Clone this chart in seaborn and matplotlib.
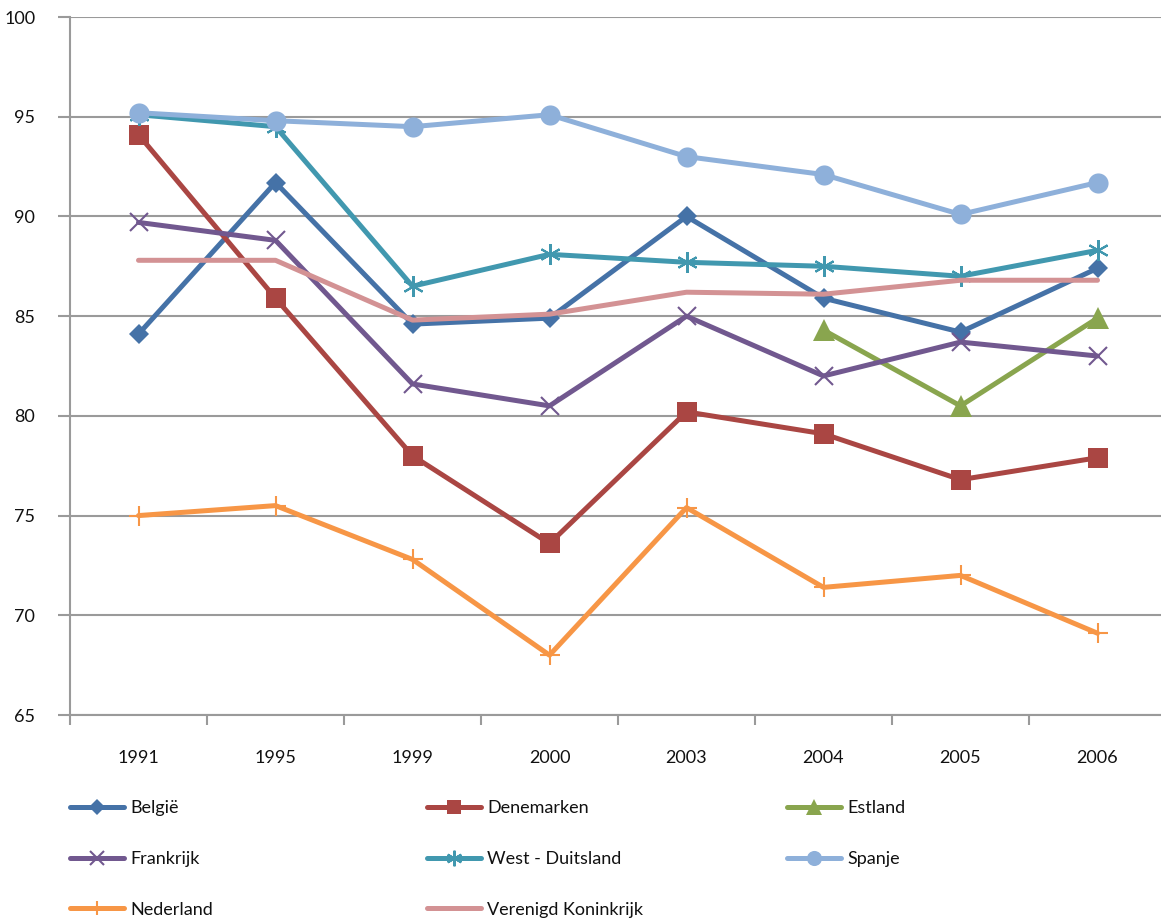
import numpy as np
import pandas as pd
import matplotlib
matplotlib.use("Agg")
import matplotlib.pyplot as plt
from matplotlib.lines import Line2D
import seaborn as sns

years = ["1991", "1995", "1999", "2000", "2003", "2004", "2005", "2006"]

belgie = [84.1, 91.7, 84.6, 84.9, 90.0, 85.9, 84.2, 87.4]
denemarken = [94.1, 85.9, 78.0, 73.6, 80.2, 79.1, 76.8, 77.9]
estland = [np.nan, np.nan, np.nan, np.nan, np.nan, 84.3, 80.5, 84.9]
frankrijk = [89.7, 88.8, 81.6, 80.5, 85.0, 82.0, 83.7, 83.0]
west_duitsland = [95.1, 94.5, 86.5, 88.1, 87.7, 87.5, 87.0, 88.3]
spanje = [95.2, 94.8, 94.5, 95.1, 93.0, 92.1, 90.1, 91.7]
nederland = [75.0, 75.5, 72.8, 68.0, 75.4, 71.4, 72.0, 69.1]
verenigd_koninkrijk = [87.8, 87.8, 84.8, 85.1, 86.2, 86.1, 86.8, 86.8]

series_names = ["België", "Denemarken", "Estland", "Frankrijk", "West - Duitsland",
                "Spanje", "Nederland", "Verenigd Koninkrijk"]
series_values = [belgie, denemarken, estland, frankrijk, west_duitsland,
                 spanje, nederland, verenigd_koninkrijk]

colors = ["#4572A7", "#AA4643", "#89A54E", "#71588F", "#4198AF",
          "#8EB0DA", "#F79646", "#D39294"]
styles = [
    dict(marker="D", markersize=10.5, markeredgewidth=0),
    dict(marker="s", markersize=14, markeredgewidth=0),
    dict(marker="^", markersize=16, markeredgewidth=0),
    dict(marker="x", markersize=13, markeredgewidth=1.5),
    dict(marker=(6, 2, 0), markersize=15, markeredgewidth=1.5),
    dict(marker="o", markersize=14.5, markeredgewidth=0),
    dict(marker="+", markersize=14, markeredgewidth=1.5),
    dict(marker="None"),
]

sns.set_theme(style="white")
plt.rcParams["font.family"] = ["Lato", "DejaVu Sans"]

W, H = 1161, 924
fig = plt.figure(figsize=(W / 100, H / 100), dpi=100)
ax = fig.add_axes([70 / W, 1 - 715 / H, 1096 / W, 698 / H])

x = np.arange(len(years))
lines = []
for name, vals, col, st in zip(series_names, series_values, colors, styles):
    df = pd.DataFrame({"x": x, "y": vals}).dropna()
    sns.lineplot(data=df, x="x", y="y", ax=ax, color=col, linewidth=3.6,
                 markeredgecolor=col, errorbar=None, legend=False, **st)
    lines.append(ax.get_lines()[-1])

grid_col = "#9a9a9a"
ax.set_xlim(-0.5, len(years) - 0.5)
ax.set_ylim(65, 100)
ax.set_yticks(np.arange(65, 101, 5))
ax.yaxis.grid(True, color=grid_col, linewidth=1.5)
ax.xaxis.grid(False)
ax.set_axisbelow(True)
for s in ["top", "right"]:
    ax.spines[s].set_visible(False)
for s in ["left", "bottom"]:
    ax.spines[s].set_color(grid_col)
    ax.spines[s].set_linewidth(1.5)

ax.set_xticks(np.arange(-0.5, len(years) - 0.4, 1.0))
ax.set_xticklabels([])
ax.set_xticks(x, minor=True)
ax.set_xticklabels(years, minor=True)
ax.tick_params(axis="x", which="major", direction="out", length=7, width=1.5,
               color=grid_col, bottom=True)
ax.tick_params(axis="x", which="minor", length=0, pad=25, labelsize=13,
               labelcolor="#111111", bottom=True)
ax.tick_params(axis="y", direction="out", length=9, width=1.5, color=grid_col,
               pad=16, labelsize=13, labelcolor="#111111", left=True)
ax.set_xlabel("")
ax.set_ylabel("")

# legend in three columns
def proxy(i):
    st = dict(styles[i])
    if "markersize" in st:
        st["markersize"] = st["markersize"] * 0.75
    return Line2D([], [], color=colors[i], linewidth=3.6,
                  markeredgecolor=colors[i], **st)

cols = [[0, 3, 6], [1, 4, 7], [2, 5]]
col_x = [70, 427, 787]
for idxs, cx in zip(cols, col_x):
    leg = fig.legend([proxy(i) for i in idxs], [series_names[i] for i in idxs],
                     loc="upper left", bbox_to_anchor=(cx / W, 1 - 800 / H),
                     frameon=False, borderaxespad=0, borderpad=0,
                     handlelength=3.0, handletextpad=0.35, labelspacing=1.93,
                     fontsize=13)
    for t in leg.get_texts():
        t.set_color("#111111")

fig.savefig("out.png", dpi=100)
